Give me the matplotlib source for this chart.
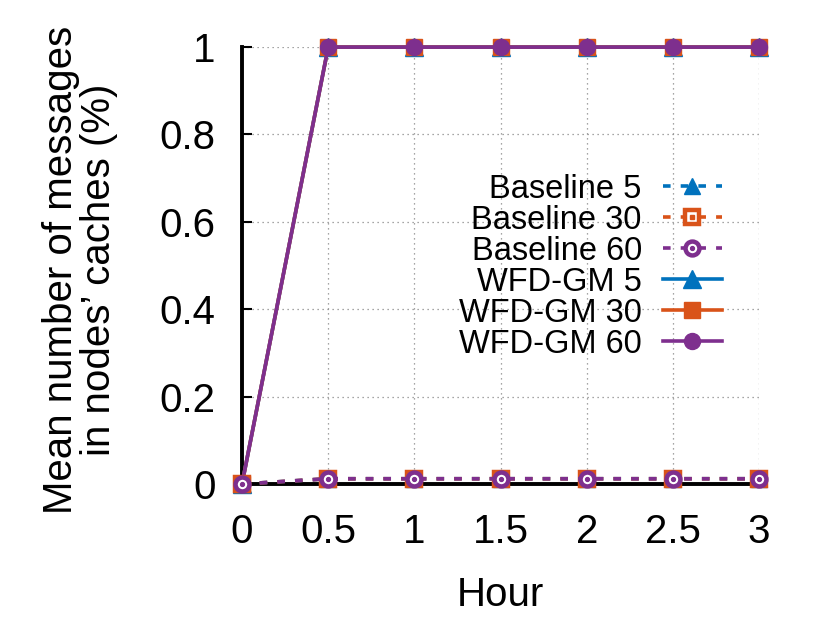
import matplotlib.pyplot as plt
from matplotlib.legend_handler import HandlerTuple

plt.rcParams['font.family'] = ['Liberation Sans', 'DejaVu Sans']

hours = [0, 0.5, 1, 1.5, 2, 2.5, 3]
baseline_5 = [0, 0.012, 0.012, 0.012, 0.012, 0.012, 0.012]
baseline_30 = [0, 0.012, 0.012, 0.012, 0.012, 0.012, 0.012]
baseline_60 = [0, 0.012, 0.012, 0.012, 0.012, 0.012, 0.012]
wfd_5 = [0, 1, 1, 1, 1, 1, 1]
wfd_30 = [0, 1, 1, 1, 1, 1, 1]
wfd_60 = [0, 1, 1, 1, 1, 1, 1]

blue = '#0072BD'
orange = '#D95319'
purple = '#7E2F8E'

fig = plt.figure(figsize=(8.3, 6.2), dpi=100)
ax = fig.add_axes([0.2916, 0.2194, 0.6229, 0.7046])

lw = 2.6
dash = (0, (2.1, 2.8))

# WFD-GM series (solid)
h_w5, = ax.plot(hours, wfd_5, color=blue, lw=lw, marker='^', ms=13, zorder=3)
h_w30, = ax.plot(hours, wfd_30, color=orange, lw=lw, marker='s', ms=11, zorder=4)
h_w60, = ax.plot(hours, wfd_60, color=purple, lw=lw, marker='o', ms=11.5, zorder=5)

# Baseline series (dashed)
h_b5, = ax.plot(hours, baseline_5, color=blue, lw=lw, ls=dash, marker='^', ms=11, zorder=6)
h_b30, = ax.plot(hours, baseline_30, color=orange, lw=lw, ls=dash, marker='s', ms=9.5,
                 mfc='white', mew=3.2, zorder=7)
d_b30, = ax.plot(hours, baseline_30, color=orange, lw=0, marker='s', ms=2.5, zorder=7.5)
h_b60, = ax.plot(hours, baseline_60, color=purple, lw=lw, ls=dash, marker='o', ms=10,
                 mfc='white', mew=3.2, zorder=8)
d_b60, = ax.plot(hours, baseline_60, color=purple, lw=0, marker='o', ms=2.8, zorder=8.5)

ax.set_xlim(0, 3)
ax.set_ylim(0, 1)
ax.set_xticks(hours)
ax.set_xticklabels(['0', '0.5', '1', '1.5', '2', '2.5', '3'])
ax.set_yticks([0, 0.2, 0.4, 0.6, 0.8, 1])
ax.set_yticklabels(['0', '0.2', '0.4', '0.6', '0.8', '1'])
ax.tick_params(labelsize=29, direction='in', length=7, width=1.5)
ax.tick_params(axis='x', pad=21)
ax.tick_params(axis='y', pad=19)
ax.grid(True, ls=(0, (1, 3)), color='#888888', lw=0.9)
ax.set_axisbelow(True)

for s in ['top', 'right']:
    ax.spines[s].set_visible(False)
for s in ['left', 'bottom']:
    ax.spines[s].set_linewidth(2.8)
for ln in ax.get_lines():
    ln.set_clip_on(False)

ax.set_xlabel('Hour', fontsize=29, labelpad=18)
ax.set_ylabel('Mean number of messages\nin nodes\u2019 caches (%)', fontsize=29,
              linespacing=1.0)
ax.yaxis.set_label_coords(-0.24, 0.49)

handles = [h_b5, (h_b30, d_b30), (h_b60, d_b60), h_w5, h_w30, h_w60]
labels = ['Baseline 5', 'Baseline 30', 'Baseline 60',
          'WFD-GM 5', 'WFD-GM 30', 'WFD-GM 60']
leg = ax.legend(handles, labels, handler_map={tuple: HandlerTuple(ndivide=1, pad=0)},
                loc='center right', bbox_to_anchor=(0.928, 0.497), frameon=False,
                fontsize=23.5, markerfirst=False, handlelength=1.8, handletextpad=0.65,
                labelspacing=0.0, borderpad=0, borderaxespad=0)
for t in leg.get_texts():
    t.set_ha('right')

fig.savefig('out.png', dpi=100)
